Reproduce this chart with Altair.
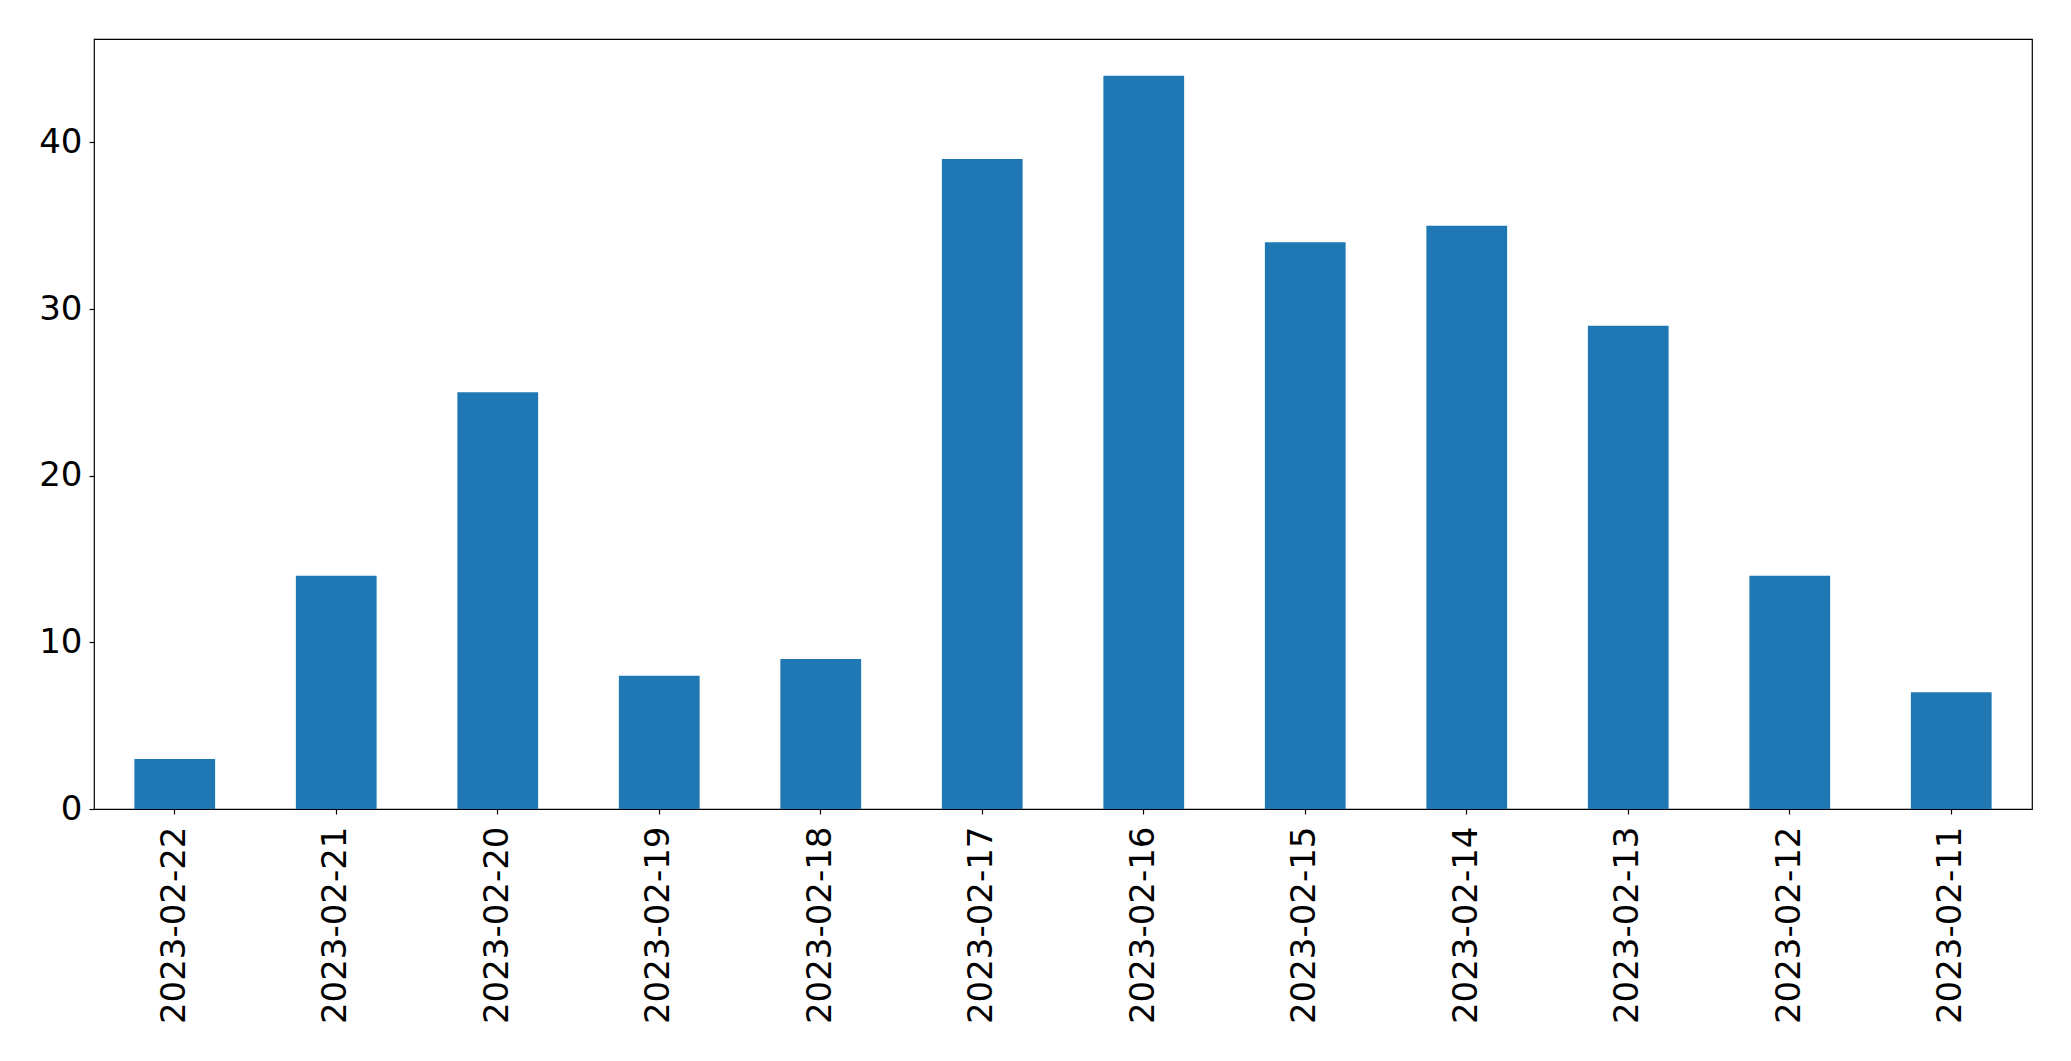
import altair as alt
import pandas as pd

dates = ["2023-02-22", "2023-02-21", "2023-02-20", "2023-02-19", "2023-02-18", "2023-02-17",
         "2023-02-16", "2023-02-15", "2023-02-14", "2023-02-13", "2023-02-12", "2023-02-11"]
counts = [3, 14, 25, 8, 9, 39, 44, 34, 35, 29, 14, 7]
y_ticks = [0, 10, 20, 30, 40]

df = pd.DataFrame({"date": dates, "count": counts})

chart = alt.Chart(df).mark_bar(color="#1f77b4").encode(
    x=alt.X("date:N", sort=None, title=None,
            scale=alt.Scale(paddingInner=0.5, paddingOuter=0.25),
            axis=alt.Axis(labelAngle=270, labelFontSize=34, labelFont="DejaVu Sans",
                          labelColor="black", tickColor="black", tickSize=5, tickWidth=1.2,
                          labelPadding=12, domain=False, labelOverlap=False, labelLimit=0)),
    y=alt.Y("count:Q", title=None,
            scale=alt.Scale(domain=[0, 46.2], nice=False, zero=True),
            axis=alt.Axis(values=y_ticks, labelFontSize=34, labelFont="DejaVu Sans",
                          labelColor="black", tickColor="black", tickSize=5, tickWidth=1.2,
                          labelPadding=7, grid=False, domain=False)),
).properties(
    width=1938, height=770,
    background="white",
    autosize=alt.AutoSizeParams(type="none"),
    padding={"left": 86, "top": 31, "right": 30, "bottom": 230},
).configure_view(stroke="black", strokeWidth=1.2)

chart.save("out.html", embed_options={"renderer": "svg", "actions": False})
